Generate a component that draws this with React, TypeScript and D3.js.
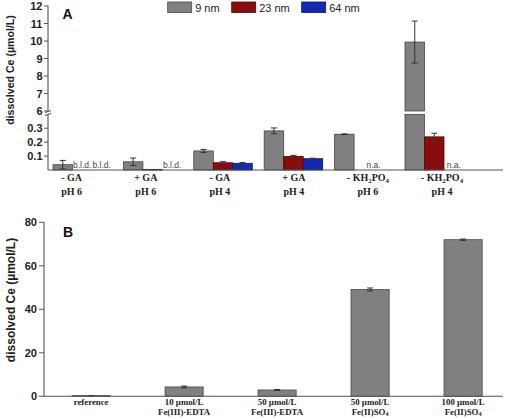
import React from "react";
import * as d3 from "d3";

// ---------- Panel A data ----------
const sizes = ["9 nm", "23 nm", "64 nm"];
const treatment = ["- GA", "+ GA", "- GA", "+ GA", "- KH2PO4", "- KH2PO4"];
const phLabels = ["pH 6", "pH 6", "pH 4", "pH 4", "pH 6", "pH 4"];
const mean9 = [0.038, 0.059, 0.137, 0.281, 0.257, 9.94];
const err9 = [0.031, 0.027, 0.011, 0.021, 0.002, 1.2];
const mean23 = [null, 0.004, 0.052, 0.098, null, 0.238];
const err23 = [0, 0, 0.008, 0.007, 0, 0.026];
const mean64 = [null, null, 0.048, 0.081, null, null];
const err64 = [0, 0, 0.005, 0.004, 0, 0];
// notes placed where no value exists: [group, first series, series span, text]
const notesA: [number, number, number, string][] = [
  [0, 1, 1, "b.l.d."],
  [0, 2, 1, "b.l.d."],
  [1, 2, 1, "b.l.d."],
  [4, 1, 2, "n.a."],
  [5, 2, 1, "n.a."],
];
const ticksHigh = [6, 7, 8, 9, 10, 11, 12];
const ticksLow = [0.1, 0.2, 0.3];

// ---------- Panel B data ----------
const condLine1 = ["reference", "10 µmol/L", "50 µmol/L", "50 µmol/L", "100 µmol/L"];
const condLine2 = ["", "Fe(III)-EDTA", "Fe(III)-EDTA", "Fe(II)SO4", "Fe(II)SO4"];
const meanB = [0.3, 4.3, 2.9, 49.1, 72.0];
const errB = [0.05, 0.4, 0.2, 0.7, 0.3];
const ticksB = [0, 20, 40, 60, 80];

const fills = ["#808080", "#8a0d0d", "#1428b0"];
const strokes = ["#474747", "#5a0505", "#0a1670"];
const SANS = "'Liberation Sans', Arial, sans-serif";
const SERIF = "'Liberation Serif', 'Times New Roman', serif";

// label with chemical subscripts ("2", "4" after H/O)
function Chem({ text, x, y, size }: { text: string; x: number; y: number; size: number }) {
  const parts: React.ReactNode[] = [];
  const re = /(KH)2(PO)4|(SO)4/;
  const m = text.match(re);
  if (!m) {
    return (
      <text x={x} y={y} textAnchor="middle" fontFamily={SERIF} fontWeight="bold" fontSize={size} fill="#222">
        {text}
      </text>
    );
  }
  const sub = size * 0.7;
  const dy = size * 0.2;
  if (m[1]) {
    const pre = text.slice(0, m.index);
    parts.push(<tspan key="a">{pre + "KH"}</tspan>);
    parts.push(<tspan key="b" dy={dy} fontSize={sub}>2</tspan>);
    parts.push(<tspan key="c" dy={-dy}>PO</tspan>);
    parts.push(<tspan key="d" dy={dy} fontSize={sub}>4</tspan>);
  } else {
    const pre = text.slice(0, m.index);
    parts.push(<tspan key="a">{pre + "SO"}</tspan>);
    parts.push(<tspan key="b" dy={dy} fontSize={sub}>4</tspan>);
  }
  return (
    <text x={x} y={y} textAnchor="middle" fontFamily={SERIF} fontWeight="bold" fontSize={size} fill="#222">
      {parts}
    </text>
  );
}

function ErrBar({ x, y1, y2 }: { x: number; y1: number; y2: number }) {
  const c = 3;
  return (
    <g stroke="#333" strokeWidth={1}>
      <line x1={x} x2={x} y1={y1} y2={y2} />
      <line x1={x - c} x2={x + c} y1={y1} y2={y1} />
      <line x1={x - c} x2={x + c} y1={y2} y2={y2} />
    </g>
  );
}

export default function App() {
  // ---- Panel A scales ----
  const baseA = 170;
  const axisXA = 48;
  const xGroup = d3.scaleBand<number>().domain(d3.range(6)).range([53, 53 + 6 * 70.4]).padding(0);
  const xSub = d3.scaleBand<string>().domain(sizes).range([0, 58.5]).padding(0);
  const xLabel = d3.scalePoint<number>().domain(d3.range(6)).range([71.7, 442]);
  const yLow = d3.scaleLinear().domain([0, 0.4]).range([baseA, 114.3]);
  const yHigh = d3.scaleLinear().domain([6, 12]).range([111, 6]);
  const lowMax = 0.4;
  const series = [
    { m: mean9, e: err9 },
    { m: mean23, e: err23 },
    { m: mean64, e: err64 },
  ];

  const barsA: React.ReactNode[] = [];
  series.forEach((s, si) => {
    s.m.forEach((v, gi) => {
      if (v == null) return;
      const x0 = (xGroup(gi) as number) + (xSub(sizes[si]) as number);
      const w = xSub.bandwidth();
      const cx = x0 + w / 2;
      const e = s.e[gi];
      if (v <= lowMax) {
        barsA.push(
          <rect key={`b${si}-${gi}`} x={x0} y={yLow(v)} width={w} height={baseA - yLow(v)}
            fill={fills[si]} stroke={strokes[si]} strokeWidth={0.8} />
        );
        if (e > 0) barsA.push(<ErrBar key={`e${si}-${gi}`} x={cx} y1={yLow(v + e)} y2={yLow(Math.max(0, v - e))} />);
      } else {
        barsA.push(
          <rect key={`bl${si}-${gi}`} x={x0} y={yLow(lowMax)} width={w} height={baseA - yLow(lowMax)}
            fill={fills[si]} stroke={strokes[si]} strokeWidth={0.8} />
        );
        barsA.push(
          <rect key={`bh${si}-${gi}`} x={x0} y={yHigh(v)} width={w} height={yHigh(6) - yHigh(v)}
            fill={fills[si]} stroke={strokes[si]} strokeWidth={0.8} />
        );
        if (e > 0) barsA.push(<ErrBar key={`e${si}-${gi}`} x={cx} y1={yHigh(v + e)} y2={yHigh(v - e)} />);
      }
    });
  });

  // ---- Panel B scales ----
  const baseB = 396.3;
  const axisXB = 44;
  const xB = d3.scaleBand<number>().domain(d3.range(5)).range([44.6, 44.6 + 5 * 93]).paddingInner(0.59).paddingOuter(0.295);
  const yB = d3.scaleLinear().domain([0, 80]).range([baseB, 222.3]);

  return (
    <svg width={513} height={419} style={{ position: "absolute", left: 0, top: 0, background: "#fff" }}>
      {/* ===== Panel A ===== */}
      <text x={62.5} y={18.5} fontFamily={SANS} fontWeight="bold" fontSize={14} fill="#111">A</text>

      {/* legend */}
      {sizes.map((s, i) => {
        const lx = [167.7, 231.7, 301.7][i];
        return (
          <g key={s}>
            <rect x={lx} y={2} width={24} height={10.5} fill={fills[i]} stroke={strokes[i]} strokeWidth={0.8} />
            <text x={lx + 27.5} y={11.5} fontFamily={SANS} fontSize={11} fill="#222">{s}</text>
          </g>
        );
      })}

      {barsA}

      {notesA.map(([g, s, span, t], i) => {
        const x0 = (xGroup(g) as number) + (xSub(sizes[s]) as number);
        const cx = x0 + (xSub.bandwidth() * span) / 2;
        return (
          <text key={`n${i}`} x={cx} y={167.5} textAnchor="middle" fontFamily={SANS} fontSize={8.5} fill="#444">{t}</text>
        );
      })}

      {/* axes A with break */}
      <g stroke="#555" strokeWidth={1.1}>
        <line x1={axisXA} x2={axisXA} y1={5.5} y2={111.5} />
        <line x1={axisXA} x2={axisXA} y1={114.5} y2={baseA} />
        <line x1={axisXA} x2={503} y1={baseA} y2={baseA} />
        <line x1={45} x2={51} y1={112.5} y2={110.5} />
        <line x1={45} x2={51} y1={115.5} y2={113.5} />
      </g>
      {ticksHigh.map((t) => (
        <g key={`th${t}`}>
          <line x1={axisXA - 4} x2={axisXA} y1={yHigh(t)} y2={yHigh(t)} stroke="#555" strokeWidth={1} />
          <text x={axisXA - 5.5} y={yHigh(t) + 4} textAnchor="end" fontFamily={SANS} fontWeight="bold" fontSize={11} fill="#222">{t}</text>
        </g>
      ))}
      {ticksLow.map((t) => (
        <g key={`tl${t}`}>
          <line x1={axisXA - 4} x2={axisXA} y1={yLow(t)} y2={yLow(t)} stroke="#555" strokeWidth={1} />
          <text x={axisXA - 5.5} y={yLow(t) + 4} textAnchor="end" fontFamily={SANS} fontWeight="bold" fontSize={11} fill="#222">{t.toFixed(1)}</text>
        </g>
      ))}
      <text transform="translate(14,70) rotate(-90)" textAnchor="middle" fontFamily={SANS} fontWeight="bold" fontSize={10.6} fill="#222">
        dissolved Ce (µmol/L)
      </text>

      {treatment.map((t, i) => (
        <g key={`ga${i}`}>
          <Chem text={t} x={xLabel(i) as number} y={180.5} size={10} />
          <Chem text={phLabels[i]} x={xLabel(i) as number} y={195} size={10} />
        </g>
      ))}

      {/* ===== Panel B ===== */}
      <text x={63} y={236.5} fontFamily={SANS} fontWeight="bold" fontSize={14} fill="#111">B</text>
      {meanB.map((v, i) => {
        const x0 = xB(i) as number;
        const w = xB.bandwidth();
        return (
          <g key={`bb${i}`}>
            <rect x={x0} y={yB(v)} width={w} height={baseB - yB(v)} fill={fills[0]} stroke={strokes[0]} strokeWidth={0.8} />
            <ErrBar x={x0 + w / 2} y1={yB(v + errB[i])} y2={yB(Math.max(0, v - errB[i]))} />
          </g>
        );
      })}
      <g stroke="#555" strokeWidth={1.1}>
        <line x1={axisXB} x2={axisXB} y1={222} y2={baseB} />
        <line x1={axisXB} x2={503} y1={baseB} y2={baseB} />
      </g>
      {ticksB.map((t) => (
        <g key={`tb${t}`}>
          <line x1={axisXB - 5} x2={axisXB} y1={yB(t)} y2={yB(t)} stroke="#555" strokeWidth={1} />
          <text x={axisXB - 7} y={yB(t) + 4} textAnchor="end" fontFamily={SANS} fontWeight="bold" fontSize={11} fill="#222">{t}</text>
        </g>
      ))}
      <text transform="translate(15,300) rotate(-90)" textAnchor="middle" fontFamily={SANS} fontWeight="bold" fontSize={12} fill="#222">
        dissolved Ce (µmol/L)
      </text>
      {condLine1.map((t, i) => {
        const cx = (xB(i) as number) + xB.bandwidth() / 2;
        return (
          <g key={`cl${i}`}>
            <Chem text={t} x={cx} y={405} size={8.8} />
            {condLine2[i] && <Chem text={condLine2[i]} x={cx} y={414.5} size={8.8} />}
          </g>
        );
      })}
    </svg>
  );
}
